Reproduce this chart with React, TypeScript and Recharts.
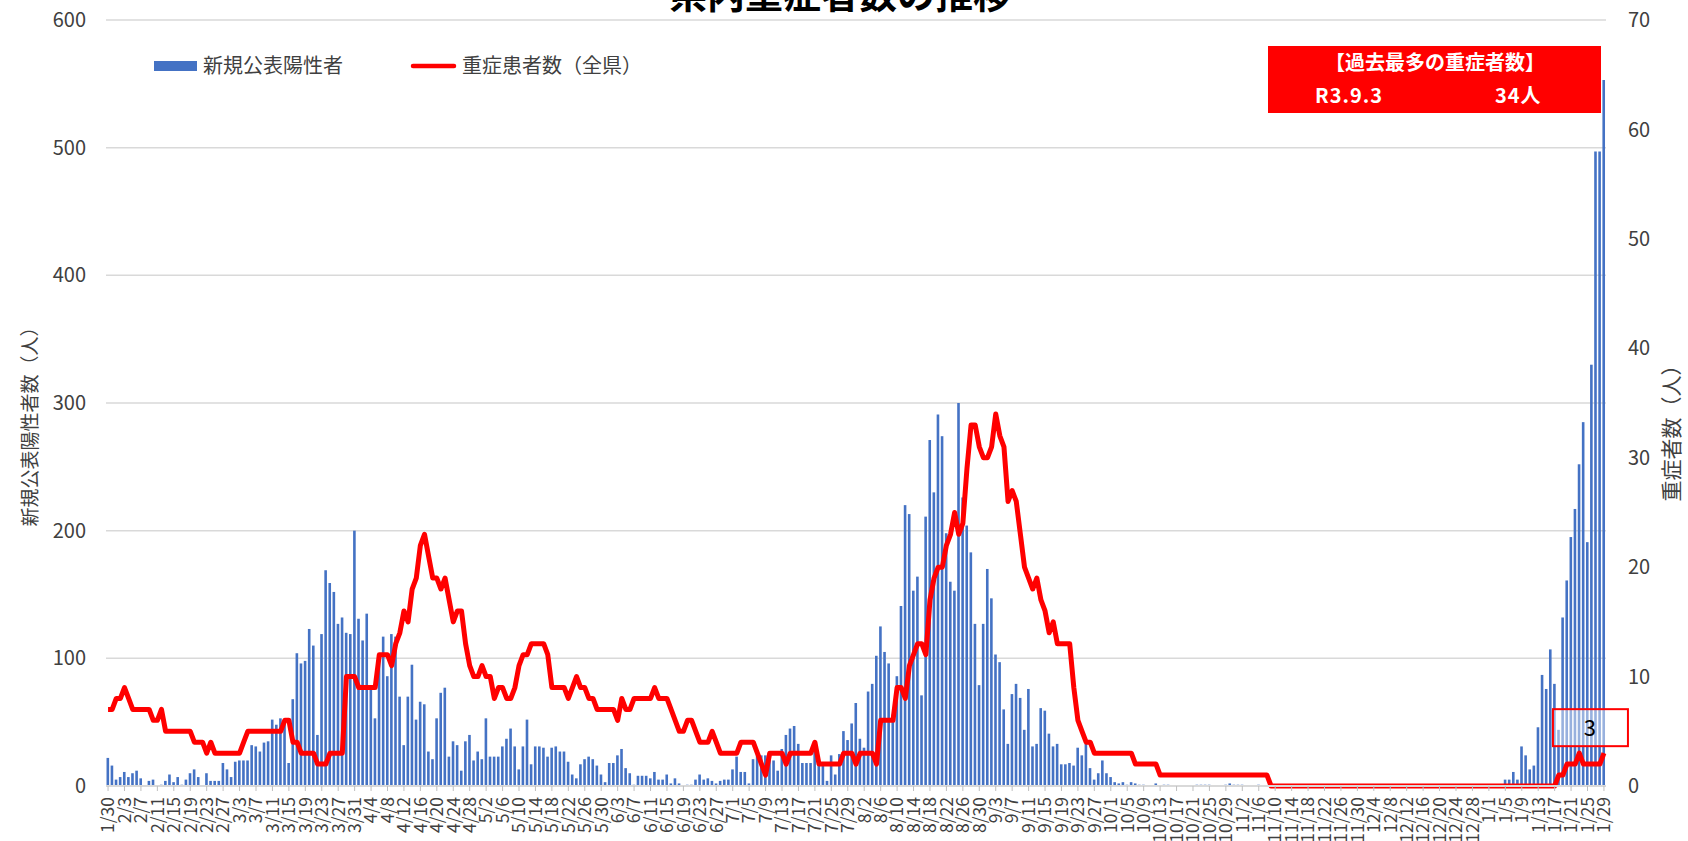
import React from 'react'
import { ComposedChart, Bar, Line, XAxis, YAxis, CartesianGrid } from 'recharts'

const FONT = '"Noto Sans CJK JP", "Noto Sans", sans-serif'
const TEXT = '#404040'
const BLUE = '#4472C4'
const RED = '#FF0000'

// 2021/1/30 - 2022/1/29, one entry per day: [month, first day, last day]
const monthRanges: [number, number, number][] = [
  [1, 30, 31], [2, 1, 28], [3, 1, 31], [4, 1, 30], [5, 1, 31], [6, 1, 30],
  [7, 1, 31], [8, 1, 31], [9, 1, 30], [10, 1, 31], [11, 1, 30], [12, 1, 31], [1, 1, 29],
]
const dates = monthRanges.flatMap(([m, from, to]) =>
  Array.from({ length: to - from + 1 }, (_, k) => `${m}/${from + k}`))

// 新規公表陽性者 (left axis)
const posJan21 = [22, 16]
const posFeb = [5, 7, 11, 7, 10, 12, 6, 0, 4, 5, 0, 1, 4, 9, 3, 7, 1, 5, 10, 13, 7, 0, 10, 4, 4, 4, 18, 13]
const posMar = [7, 19, 20, 20, 20, 32, 31, 27, 34, 35, 52, 48, 53, 51, 18, 68, 104, 96, 98, 123, 110, 40, 119, 169, 159, 152, 127, 132, 120, 119, 200]
const posApr = [131, 114, 135, 78, 53, 100, 117, 86, 119, 117, 70, 32, 70, 95, 52, 66, 64, 27, 21, 53, 73, 77, 23, 35, 32, 12, 35, 40, 20, 27]
const posMay = [21, 53, 23, 23, 23, 31, 37, 45, 31, 13, 31, 52, 17, 31, 31, 30, 23, 30, 31, 27, 27, 19, 9, 6, 17, 21, 23, 21, 16, 9, 3]
const posJun = [18, 18, 24, 29, 14, 10, 1, 8, 8, 8, 6, 11, 5, 5, 9, 2, 6, 2, 0, 1, 1, 5, 9, 5, 6, 4, 2, 4, 5, 5]
const posJul = [13, 23, 11, 11, 2, 21, 24, 24, 24, 24, 20, 12, 29, 40, 45, 47, 33, 18, 18, 18, 30, 16, 16, 4, 24, 9, 25, 43, 36, 49, 65]
const posAug = [37, 30, 74, 80, 102, 125, 105, 96, 56, 86, 141, 220, 213, 153, 164, 71, 211, 271, 230, 291, 274, 198, 160, 153, 300, 226, 204, 183, 127, 79, 127]
const posSep = [170, 147, 103, 97, 60, 33, 72, 80, 69, 44, 76, 31, 33, 61, 59, 41, 31, 33, 17, 17, 18, 16, 30, 24, 33, 14, 5, 10, 20, 10]
const posOct = [7, 3, 2, 3, 1, 3, 2, 1, 1, 0, 0, 2, 0, 1, 1, 0, 0, 0, 0, 0, 0, 1, 1, 1, 1, 0, 0, 0, 1, 2, 1]
const posNov = [1, 1, 0, 0, 0, 1, 0, 0, 0, 0, 0, 0, 0, 0, 0, 0, 0, 0, 0, 0, 0, 0, 0, 0, 0, 0, 0, 0, 0, 0]
const posDec = [0, 0, 0, 0, 0, 0, 0, 0, 0, 0, 0, 0, 0, 0, 0, 0, 0, 0, 0, 0, 0, 0, 0, 0, 0, 0, 0, 0, 0, 0, 0]
const posJan22 = [0, 0, 0, 0, 5, 5, 11, 5, 31, 24, 13, 16, 46, 87, 76, 107, 80, 44, 132, 161, 195, 217, 252, 285, 191, 330, 497, 497, 553]

// 重症患者数（全県） (right axis)
const sevJan21 = [7, 7]
const sevFeb = [8, 8, 9, 8, 7, 7, 7, 7, 7, 6, 6, 7, 5, 5, 5, 5, 5, 5, 5, 4, 4, 4, 3, 4, 3, 3, 3, 3]
const sevMar = [3, 3, 3, 4, 5, 5, 5, 5, 5, 5, 5, 5, 5, 6, 6, 4, 4, 3, 3, 3, 3, 2, 2, 2, 3, 3, 3, 3, 10, 10, 10]
const sevApr = [9, 9, 9, 9, 9, 12, 12, 12, 11, 13, 14, 16, 15, 18, 19, 22, 23, 21, 19, 19, 18, 19, 17, 15, 16, 16, 13, 11, 10, 10]
const sevMay = [11, 10, 10, 8, 9, 9, 8, 8, 9, 11, 12, 12, 13, 13, 13, 13, 12, 9, 9, 9, 9, 8, 9, 10, 9, 9, 8, 8, 7, 7, 7]
const sevJun = [7, 7, 6, 8, 7, 7, 8, 8, 8, 8, 8, 9, 8, 8, 8, 7, 6, 5, 5, 6, 6, 5, 4, 4, 4, 5, 4, 3, 3, 3]
const sevJul = [3, 3, 4, 4, 4, 4, 3, 2, 1, 3, 3, 3, 3, 2, 3, 3, 3, 3, 3, 3, 4, 2, 2, 2, 2, 2, 2, 3, 3, 3, 2]
const sevAug = [3, 3, 3, 3, 2, 6, 6, 6, 6, 9, 9, 8, 11, 12, 13, 13, 12, 17, 19, 20, 20, 22, 23, 25, 23, 24, 29, 33, 33, 31, 30]
const sevSep = [30, 31, 34, 32, 31, 26, 27, 26, 23, 20, 19, 18, 19, 17, 16, 14, 15, 13, 13, 13, 13, 9, 6, 5, 4, 4, 3, 3, 3, 3]
const sevOct = [3, 3, 3, 3, 3, 3, 2, 2, 2, 2, 2, 2, 1, 1, 1, 1, 1, 1, 1, 1, 1, 1, 1, 1, 1, 1, 1, 1, 1, 1, 1]
const sevNov = [1, 1, 1, 1, 1, 1, 1, 1, 0, 0, 0, 0, 0, 0, 0, 0, 0, 0, 0, 0, 0, 0, 0, 0, 0, 0, 0, 0, 0, 0]
const sevDec = [0, 0, 0, 0, 0, 0, 0, 0, 0, 0, 0, 0, 0, 0, 0, 0, 0, 0, 0, 0, 0, 0, 0, 0, 0, 0, 0, 0, 0, 0, 0]
const sevJan22 = [0, 0, 0, 0, 0, 0, 0, 0, 0, 0, 0, 0, 0, 0, 0, 0, 0, 1, 1, 2, 2, 2, 3, 2, 2, 2, 2, 2, 3]

const positives = [...posJan21, ...posFeb, ...posMar, ...posApr, ...posMay, ...posJun, ...posJul,
  ...posAug, ...posSep, ...posOct, ...posNov, ...posDec, ...posJan22]
const severe = [...sevJan21, ...sevFeb, ...sevMar, ...sevApr, ...sevMay, ...sevJun, ...sevJul,
  ...sevAug, ...sevSep, ...sevOct, ...sevNov, ...sevDec, ...sevJan22]

const leftTicks = [0, 100, 200, 300, 400, 500, 600]
const rightTicks = [0, 10, 20, 30, 40, 50, 60, 70]

const data = dates.map((date, i) => ({ date, positives: positives[i], severe: severe[i] }))

const DateTick = ({ x, y, payload }: any) => (
  <g transform={`translate(${x},${y + 4}) rotate(-90)`}>
    <text x={0} y={0} dy="0.36em" textAnchor="end" fontSize={17.5} fill={TEXT} fontFamily={FONT}>
      {payload.value}
    </text>
  </g>
)

// bars a touch wider than the library's integer bar size, like the source
const PosBar = ({ x, y, width, height }: any) =>
  height > 0 ? <rect x={x - 0.3} y={y} width={width + 0.6} height={height} fill={BLUE} /> : null

// data label on the last point of the line
const LastLabel = (props: any) => {
  const { x, y, index, value } = props
  if (index !== severe.length - 1) return null
  return (
    <g>
      <rect x={x - 51} y={y - 44} width={75} height={37} fill="#fff" fillOpacity={0.45} stroke={RED} strokeWidth={2} />
      <text x={x - 14} y={y - 25} dy="0.35em" textAnchor="middle" fontSize={22} fill="#000" fontFamily={FONT}>
        {value}
      </text>
    </g>
  )
}

export default function App() {
  return (
    <div style={{ position: 'absolute', left: 0, top: 0, width: 1688, height: 841, overflow: 'hidden', background: '#fff', fontFamily: FONT }}>
      <ComposedChart
        width={1688}
        height={841}
        data={data}
        margin={{ top: 20, right: 0, bottom: 0, left: 0 }}
        barCategoryGap="20%"
      >
        <CartesianGrid yAxisId="left" vertical={false} stroke="#d9d9d9" strokeWidth={1.5} />
        <XAxis
          dataKey="date"
          interval={3}
          height={55}
          tick={<DateTick />}
          tickSize={5}
          tickLine={{ stroke: '#bfbfbf' }}
          axisLine={{ stroke: '#d9d9d9', strokeWidth: 2 }}
        />
        <YAxis
          yAxisId="left"
          width={106}
          domain={[0, 600]}
          ticks={leftTicks}
          axisLine={false}
          tickLine={false}
          tickSize={0}
          tickMargin={20}
          tick={{ fontSize: 20, fill: TEXT, fontFamily: FONT }}
        />
        <YAxis
          yAxisId="right"
          orientation="right"
          width={82}
          domain={[0, 70]}
          ticks={rightTicks}
          axisLine={false}
          tickLine={false}
          tickSize={0}
          tickMargin={22}
          tick={{ fontSize: 20, fill: TEXT, fontFamily: FONT, textAnchor: 'start' }}
        />
        <Bar yAxisId="left" dataKey="positives" fill={BLUE} shape={<PosBar />} isAnimationActive={false} />
        <Line
          yAxisId="right"
          dataKey="severe"
          type="linear"
          stroke={RED}
          strokeWidth={5}
          strokeLinejoin="round"
          dot={false}
          isAnimationActive={false}
          label={<LastLabel />}
        />
      </ComposedChart>

      <svg width={1688} height={841} style={{ position: 'absolute', left: 0, top: 0, pointerEvents: 'none' }}>
        <text x={840} y={8} textAnchor="middle" fontSize={38} fontWeight="bold" fill="#000" fontFamily={FONT}>
          県内重症者数の推移
        </text>
        <text transform="translate(30,422) rotate(-90)" textAnchor="middle" dy="0.35em" fontSize={19} fill={TEXT} fontFamily={FONT}>
          新規公表陽性者数（人）
        </text>
        <text transform="translate(1672,428) rotate(-90)" textAnchor="middle" dy="0.35em" fontSize={21} fill={TEXT} fontFamily={FONT}>
          重症者数（人）
        </text>

        <rect x={154} y={61} width={43} height={10} fill={BLUE} />
        <text x={203} y={66} dy="0.35em" fontSize={20} fill={TEXT} fontFamily={FONT}>新規公表陽性者</text>
        <line x1={413} y1={66} x2={454} y2={66} stroke={RED} strokeWidth={4.5} strokeLinecap="round" />
        <text x={462} y={66} dy="0.35em" fontSize={20} fill={TEXT} fontFamily={FONT}>重症患者数（全県）</text>

        <rect x={1268} y={46} width={333} height={67} fill={RED} />
        <text x={1435} y={63} dy="0.35em" textAnchor="middle" fontSize={20} fontWeight="bold" fill="#fff" fontFamily={FONT}>
          【過去最多の重症者数】
        </text>
        <text x={1315} y={96} dy="0.35em" fontSize={20} fontWeight="bold" fill="#fff" fontFamily={FONT} letterSpacing={1}>R3.9.3</text>
        <text x={1495} y={96} dy="0.35em" fontSize={20} fontWeight="bold" fill="#fff" fontFamily={FONT} letterSpacing={1}>34人</text>
      </svg>
    </div>
  )
}
